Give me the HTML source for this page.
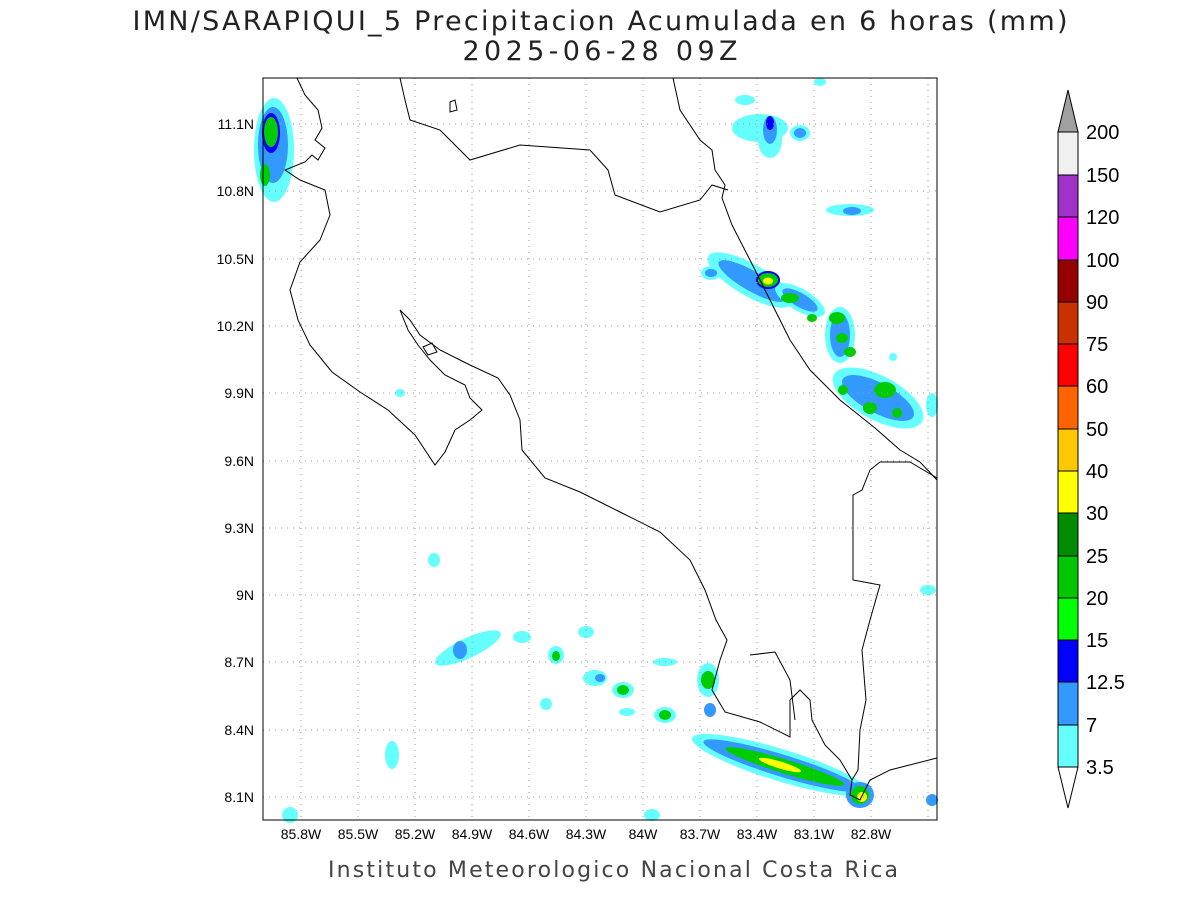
<!DOCTYPE html>
<html><head><meta charset="utf-8"><style>
body{margin:0;background:#fff;width:1200px;height:900px;overflow:hidden}
svg{display:block}
text{font-family:"Liberation Sans",sans-serif}
</style></head><body>
<svg width="1200" height="900" viewBox="0 0 1200 900" xmlns="http://www.w3.org/2000/svg">
<rect width="1200" height="900" fill="#fff"/>
<text x="600" y="30" font-size="27" text-anchor="middle" fill="#222" style="font-family:'DejaVu Sans',sans-serif" textLength="935">IMN/SARAPIQUI_5 Precipitacion Acumulada en 6 horas (mm)</text>
<text x="600" y="60" font-size="27" text-anchor="middle" fill="#222" style="font-family:'DejaVu Sans',sans-serif" textLength="275">2025-06-28 09Z</text>
<text x="613" y="877" font-size="22" text-anchor="middle" fill="#444" style="font-family:'DejaVu Sans',sans-serif" textLength="570">Instituto Meteorologico Nacional Costa Rica</text>

<g>
<ellipse cx="274" cy="150" rx="20" ry="52" fill="#66ffff"/>
<ellipse cx="273" cy="145" rx="15" ry="38" fill="#3399ff"/>
<ellipse cx="271" cy="133" rx="9" ry="20" fill="#0000ff"/>
<ellipse cx="271" cy="132" rx="7" ry="15" fill="#00cc00"/>
<ellipse cx="265" cy="175" rx="5" ry="11" fill="#00cc00"/>
<ellipse cx="760" cy="128" rx="28" ry="14" fill="#66ffff"/>
<ellipse cx="770" cy="140" rx="12" ry="18" fill="#66ffff"/>
<ellipse cx="770" cy="130" rx="7" ry="14" fill="#3399ff"/>
<ellipse cx="770" cy="123" rx="4" ry="7" fill="#0000ff"/>
<ellipse cx="800" cy="133" rx="10" ry="8" fill="#66ffff"/>
<ellipse cx="800" cy="133" rx="6" ry="5" fill="#3399ff"/>
<ellipse cx="745" cy="100" rx="10" ry="5" fill="#66ffff"/>
<ellipse cx="820" cy="82" rx="6" ry="4" fill="#66ffff"/>
<ellipse cx="850" cy="210" rx="24" ry="6" fill="#66ffff"/>
<ellipse cx="852" cy="211" rx="9" ry="4" fill="#3399ff"/>
<g transform="rotate(30 750 280)">
<ellipse cx="750" cy="280" rx="48" ry="16" fill="#66ffff"/>
<ellipse cx="752" cy="280" rx="38" ry="10" fill="#3399ff"/>
</g>
<g transform="rotate(30 800 300)">
<ellipse cx="800" cy="300" rx="28" ry="11" fill="#66ffff"/>
<ellipse cx="800" cy="300" rx="20" ry="7" fill="#3399ff"/>
</g>
<ellipse cx="840" cy="335" rx="15" ry="28" fill="#66ffff"/>
<ellipse cx="840" cy="335" rx="10" ry="22" fill="#3399ff"/>
<ellipse cx="711" cy="273" rx="10" ry="7" fill="#66ffff"/>
<ellipse cx="711" cy="273" rx="6" ry="4" fill="#3399ff"/>
<ellipse cx="768" cy="280" rx="12" ry="9" fill="#0000ff"/>
<ellipse cx="768" cy="280" rx="10" ry="7" fill="#00cc00"/>
<ellipse cx="768" cy="281" rx="5" ry="3.5" fill="#ffff00"/>
<ellipse cx="790" cy="298" rx="9" ry="5" fill="#00cc00"/>
<ellipse cx="837" cy="318" rx="8" ry="6" fill="#00cc00"/>
<ellipse cx="842" cy="338" rx="6" ry="5" fill="#00cc00"/>
<ellipse cx="850" cy="352" rx="6" ry="5" fill="#00cc00"/>
<ellipse cx="812" cy="318" rx="5" ry="4" fill="#00cc00"/>
<g transform="rotate(28 878 398)">
<ellipse cx="878" cy="398" rx="50" ry="22" fill="#66ffff"/>
<ellipse cx="878" cy="398" rx="40" ry="15" fill="#3399ff"/>
</g>
<ellipse cx="885" cy="390" rx="11" ry="8" fill="#00cc00"/>
<ellipse cx="870" cy="408" rx="7" ry="6" fill="#00cc00"/>
<ellipse cx="897" cy="413" rx="5" ry="5" fill="#00cc00"/>
<ellipse cx="843" cy="390" rx="5" ry="5" fill="#00cc00"/>
<ellipse cx="932" cy="405" rx="6" ry="12" fill="#66ffff"/>
<ellipse cx="893" cy="357" rx="4" ry="4" fill="#66ffff"/>
<g transform="rotate(17 780 765)">
<ellipse cx="780" cy="765" rx="92" ry="16" fill="#66ffff"/>
<ellipse cx="782" cy="765" rx="82" ry="11" fill="#3399ff"/>
<ellipse cx="785" cy="765" rx="62" ry="7" fill="#00cc00"/>
<ellipse cx="780" cy="765" rx="22" ry="3.5" fill="#ffff00"/>
</g>
<ellipse cx="860" cy="795" rx="14" ry="13" fill="#3399ff"/>
<ellipse cx="860" cy="795" rx="9" ry="9" fill="#00cc00"/>
<ellipse cx="862" cy="797" rx="5" ry="5" fill="#ffff00"/>
<ellipse cx="708" cy="680" rx="11" ry="17" fill="#66ffff"/>
<ellipse cx="708" cy="680" rx="7" ry="9" fill="#00cc00"/>
<ellipse cx="665" cy="715" rx="11" ry="8" fill="#66ffff"/>
<ellipse cx="665" cy="715" rx="6" ry="5" fill="#00cc00"/>
<ellipse cx="623" cy="690" rx="11" ry="8" fill="#66ffff"/>
<ellipse cx="623" cy="690" rx="6" ry="5" fill="#00cc00"/>
<ellipse cx="556" cy="655" rx="8" ry="9" fill="#66ffff"/>
<ellipse cx="556" cy="656" rx="4" ry="5" fill="#00cc00"/>
<ellipse cx="595" cy="678" rx="12" ry="8" fill="#66ffff"/>
<ellipse cx="600" cy="678" rx="5" ry="4" fill="#3399ff"/>
<ellipse cx="468" cy="648" rx="36" ry="10" fill="#66ffff" transform="rotate(-25 468 648)"/>
<ellipse cx="460" cy="650" rx="7" ry="9" fill="#3399ff"/>
<ellipse cx="522" cy="637" rx="9" ry="6" fill="#66ffff"/>
<ellipse cx="665" cy="662" rx="12" ry="4" fill="#66ffff"/>
<ellipse cx="710" cy="710" rx="6" ry="7" fill="#3399ff"/>
<ellipse cx="392" cy="755" rx="7" ry="14" fill="#66ffff"/>
<ellipse cx="546" cy="704" rx="6" ry="6" fill="#66ffff"/>
<ellipse cx="627" cy="712" rx="8" ry="4" fill="#66ffff"/>
<ellipse cx="586" cy="632" rx="8" ry="6" fill="#66ffff"/>
<ellipse cx="434" cy="560" rx="6" ry="7" fill="#66ffff"/>
<ellipse cx="652" cy="815" rx="8" ry="6" fill="#66ffff"/>
<ellipse cx="290" cy="815" rx="8" ry="8" fill="#66ffff"/>
<ellipse cx="932" cy="800" rx="6" ry="6" fill="#3399ff"/>
<ellipse cx="928" cy="590" rx="8" ry="5" fill="#66ffff"/>
<ellipse cx="400" cy="393" rx="5" ry="4" fill="#66ffff"/>
</g>

<g stroke="#999" stroke-width="1" stroke-dasharray="1,5">
<line x1="301" y1="78" x2="301" y2="820"/><line x1="358" y1="78" x2="358" y2="820"/>
<line x1="415" y1="78" x2="415" y2="820"/><line x1="472" y1="78" x2="472" y2="820"/>
<line x1="529" y1="78" x2="529" y2="820"/><line x1="586" y1="78" x2="586" y2="820"/>
<line x1="643" y1="78" x2="643" y2="820"/><line x1="700" y1="78" x2="700" y2="820"/>
<line x1="757" y1="78" x2="757" y2="820"/><line x1="814" y1="78" x2="814" y2="820"/>
<line x1="871" y1="78" x2="871" y2="820"/><line x1="928" y1="78" x2="928" y2="820"/>
<line x1="263" y1="124" x2="937" y2="124"/><line x1="263" y1="191" x2="937" y2="191"/>
<line x1="263" y1="259" x2="937" y2="259"/><line x1="263" y1="326" x2="937" y2="326"/>
<line x1="263" y1="393" x2="937" y2="393"/><line x1="263" y1="461" x2="937" y2="461"/>
<line x1="263" y1="528" x2="937" y2="528"/><line x1="263" y1="595" x2="937" y2="595"/>
<line x1="263" y1="662" x2="937" y2="662"/><line x1="263" y1="730" x2="937" y2="730"/>
<line x1="263" y1="797" x2="937" y2="797"/>
</g>

<g fill="none" stroke="#000" stroke-width="1">
<path d="M297 78 L305 95 L318 110 L322 128 L315 140 L325 148 L318 160 L312 155 L305 162 L285 170 L300 180 L325 190 L330 215 L320 240 L300 262 L290 290 L298 320 L310 345 L332 372 L360 392 L388 410 L415 435 L435 465 L445 452 L455 430 L470 420 L482 410 L470 398 L465 385 L445 375 L430 360 L418 345 L408 330 L400 310 L410 320 L420 335 L440 350 L470 365 L498 378 L510 395 L520 420 L522 450 L545 478 L580 492 L620 512 L660 532 L690 560 L705 590 L716 620 L727 640 L720 660 L712 690 L725 712 L760 722 L790 737 L790 700 L800 690 L810 700 L812 720 L825 745 L840 760 L852 780 L850 795 L860 800 L870 780 L890 770 L937 758"/>
<path d="M750 655 L775 652 L790 680 L795 720"/>
<path d="M400 78 L405 100 L410 120 L440 130 L470 160 L520 145 L590 150 L608 170 L615 195 L660 212 L700 200 L712 185 L728 190"/>
<path d="M673 78 L680 110 L700 140 L712 150 L715 170 L725 185 L722 198 L732 225 L750 260 L770 300 L790 340 L810 370 L840 400 L875 428 L900 450 L920 462 L937 480"/>
<path d="M937 478 L910 462 L880 462 L870 470 L862 490 L853 495 L853 580 L880 585 L870 620 L862 650 L866 700 L860 730 L858 770 L852 780"/>
<path d="M423 347 L432 343 L437 352 L428 355 Z"/>
<path d="M450 102 L455 100 L457 110 L450 112 Z"/>
</g>

<rect x="263" y="78" width="674" height="742" fill="none" stroke="#000" stroke-width="1"/>

<g font-size="14" text-anchor="middle" fill="#000">
<text x="301" y="839">85.8W</text><text x="358" y="839">85.5W</text><text x="415" y="839">85.2W</text>
<text x="472" y="839">84.9W</text><text x="529" y="839">84.6W</text><text x="586" y="839">84.3W</text>
<text x="643" y="839">84W</text><text x="700" y="839">83.7W</text><text x="757" y="839">83.4W</text>
<text x="814" y="839">83.1W</text><text x="871" y="839">82.8W</text>
</g>
<g font-size="14" text-anchor="end" fill="#000">
<text x="254" y="129">11.1N</text><text x="254" y="196">10.8N</text><text x="254" y="264">10.5N</text>
<text x="254" y="331">10.2N</text><text x="254" y="398">9.9N</text><text x="254" y="466">9.6N</text>
<text x="254" y="533">9.3N</text><text x="254" y="600">9N</text><text x="254" y="667">8.7N</text>
<text x="254" y="735">8.4N</text><text x="254" y="802">8.1N</text>
</g>

<g stroke="#000" stroke-width="1">
<polygon points="1058,767 1078,767 1068,808" fill="#fff"/>
<rect x="1058" y="725" width="20" height="42" fill="#66ffff"/>
<rect x="1058" y="682" width="20" height="43" fill="#3399ff"/>
<rect x="1058" y="640" width="20" height="42" fill="#0000ff"/>
<rect x="1058" y="598" width="20" height="42" fill="#00ff00"/>
<rect x="1058" y="556" width="20" height="42" fill="#00c800"/>
<rect x="1058" y="513" width="20" height="43" fill="#008c00"/>
<rect x="1058" y="471" width="20" height="42" fill="#ffff00"/>
<rect x="1058" y="429" width="20" height="42" fill="#ffc800"/>
<rect x="1058" y="386" width="20" height="43" fill="#ff6400"/>
<rect x="1058" y="344" width="20" height="42" fill="#ff0000"/>
<rect x="1058" y="302" width="20" height="42" fill="#c83200"/>
<rect x="1058" y="260" width="20" height="42" fill="#960000"/>
<rect x="1058" y="217" width="20" height="43" fill="#ff00ff"/>
<rect x="1058" y="175" width="20" height="42" fill="#a032c8"/>
<rect x="1058" y="132" width="20" height="43" fill="#f0f0f0"/>
<polygon points="1058,132 1078,132 1068,90" fill="#a0a0a0"/>
</g>
<g font-size="20" fill="#000">
<text x="1086" y="774">3.5</text><text x="1086" y="732">7</text><text x="1086" y="689">12.5</text>
<text x="1086" y="647">15</text><text x="1086" y="605">20</text><text x="1086" y="563">25</text>
<text x="1086" y="520">30</text><text x="1086" y="478">40</text><text x="1086" y="436">50</text>
<text x="1086" y="393">60</text><text x="1086" y="351">75</text><text x="1086" y="309">90</text>
<text x="1086" y="267">100</text><text x="1086" y="224">120</text><text x="1086" y="182">150</text>
<text x="1086" y="139">200</text>
</g>
</svg>
</body></html>
